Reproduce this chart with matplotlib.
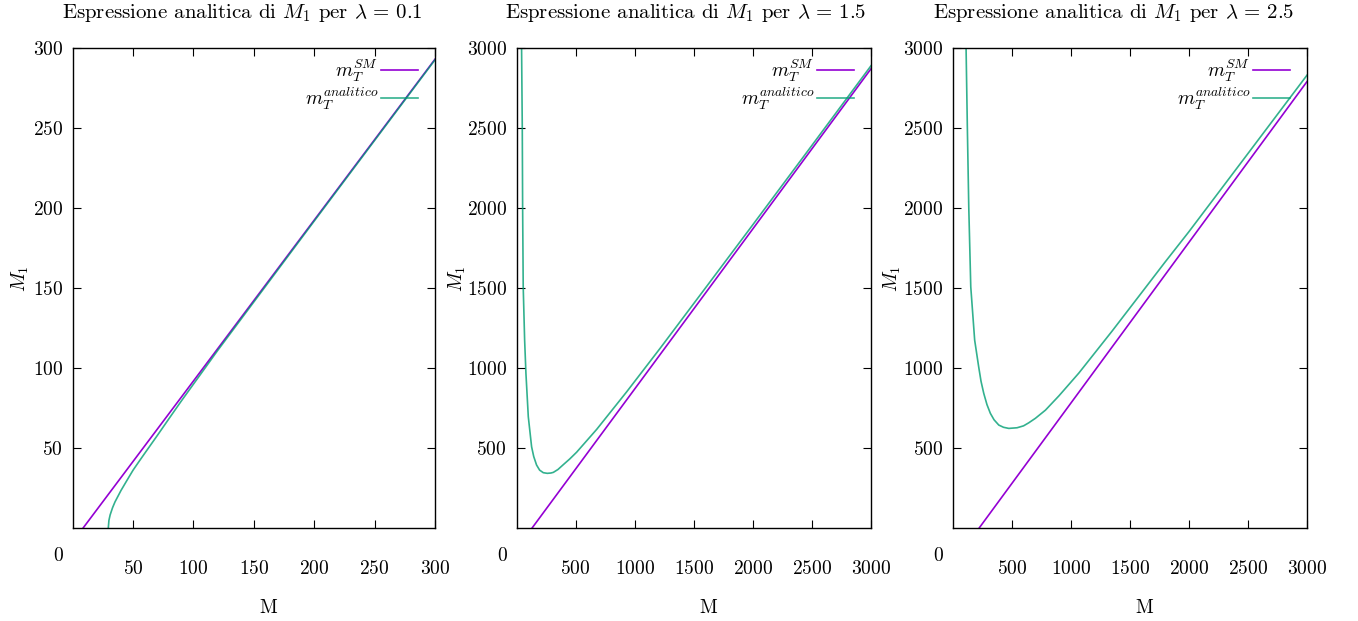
import matplotlib
matplotlib.use("Agg")
import matplotlib.pyplot as plt

plt.rcParams['font.family'] = 'serif'
plt.rcParams['font.serif'] = ['cmr10', 'DejaVu Serif']
plt.rcParams['mathtext.fontset'] = 'cm'
plt.rcParams['axes.formatter.use_mathtext'] = True

# lambda = 0.1
sm1_M = [8.8, 300]
sm1_V = [0, 293]
an1_M = [29.5, 30, 31, 33, 35, 40, 45, 50, 55, 60, 70, 80, 90, 100, 120, 150, 200, 250, 300]
an1_V = [0, 4.6, 8.0, 12.5, 16.1, 23.3, 29.7, 36, 41.5, 46.9, 57.6, 68.5, 79.3, 89.8, 110.8, 141.2, 191.8, 242.2, 292.6]

# lambda = 1.5
sm2_M = [133, 3000]
sm2_V = [0, 2870]
an2_M = [42, 48, 51, 56, 68, 79, 99, 127, 145, 169, 195, 226, 260, 290, 311, 350, 395, 450, 508, 678, 932, 1215, 1638, 2000, 2500, 3000]
an2_V = [3010, 2506, 2006, 1506, 1173, 965, 694, 506, 445, 392, 360, 344, 340, 342, 346, 364, 394, 430, 472, 615, 850, 1122, 1538, 1895, 2391, 2889]

# lambda = 2.5
sm3_M = [226, 3000]
sm3_V = [0, 2790]
an3_M = [113, 124, 136, 153, 186, 220, 240, 263, 290, 319, 350, 390, 430, 475, 545, 600, 644, 700, 785, 900, 1068, 1350, 1633, 1797, 2000, 2500, 3000]
an3_V = [3010, 2506, 2006, 1506, 1173, 1006, 915, 840, 770, 715, 675, 642, 628, 621, 625, 637, 656, 684, 735, 825, 967, 1230, 1502, 1660, 1851, 2340, 2830]

lambdas = ['0.1', '1.5', '2.5']
xmax = [300, 3000, 3000]
ticks = [[50, 100, 150, 200, 250, 300],
         [500, 1000, 1500, 2000, 2500, 3000],
         [500, 1000, 1500, 2000, 2500, 3000]]
sm = [(sm1_M, sm1_V), (sm2_M, sm2_V), (sm3_M, sm3_V)]
an = [(an1_M, an1_V), (an2_M, an2_V), (an3_M, an3_V)]

purple = '#9400d3'
green = '#009e73'

W, H = 1358, 621
fig = plt.figure(figsize=(W / 100, H / 100), dpi=100)

# axes boxes in pixels: left, right
boxes = [(72.7, 435), (516.6, 871), (952.7, 1307)]
top, bottom = 48, 527.7
title_x = [242, 685.5, 1113.5]
ylab_x = [31, 468, 903]

for i in range(3):
    l, r = boxes[i]
    w, h = r - l, bottom - top
    ax = fig.add_axes([l / W, 1 - bottom / H, w / W, h / H])
    ax.plot(sm[i][0], sm[i][1], color=purple, lw=1.2, label=r'$m_T^{SM}$')
    ax.plot(an[i][0], an[i][1], color=green, lw=1.2, alpha=0.8, label=r'$m_T^{analitico}$')
    ax.set_xlim(0, xmax[i])
    ax.set_ylim(0, xmax[i])
    ax.set_xticks(ticks[i])
    ax.set_yticks(ticks[i])
    ax.tick_params(direction='in', length=6, width=0.8, top=True, right=True,
                   labelsize=14)
    ax.tick_params(axis='x', pad=23)
    ax.tick_params(axis='y', pad=7)
    for s in ax.spines.values():
        s.set_linewidth(1.0)
    ax.text(-14.6 / w, -0.059, '0', transform=ax.transAxes,
            ha='center', va='center', fontsize=14)
    ax.set_xlabel('M', fontsize=14)
    ax.xaxis.set_label_coords(0.54, -0.149)
    ax.set_ylabel(r'$M_1$', fontsize=14)
    ax.yaxis.set_label_coords((ylab_x[i] - l) / w, 0.52)
    leg = ax.legend(loc='upper right', bbox_to_anchor=(1 - 13 / w, 1 - 5.7 / h),
                    frameon=False, markerfirst=False,
                    fontsize=14, handlelength=1.9, handletextpad=0.15,
                    labelspacing=0.1, borderaxespad=0, borderpad=0.2)
    for t in leg.get_texts():
        t.set_ha('right')
    fig.text(title_x[i] / W, 1 - 13 / H,
             r'Espressione analitica di $M_1$ per $\lambda\,=\,$' + lambdas[i],
             ha='center', va='center', fontsize=15)

fig.savefig('out.png', dpi=100)
